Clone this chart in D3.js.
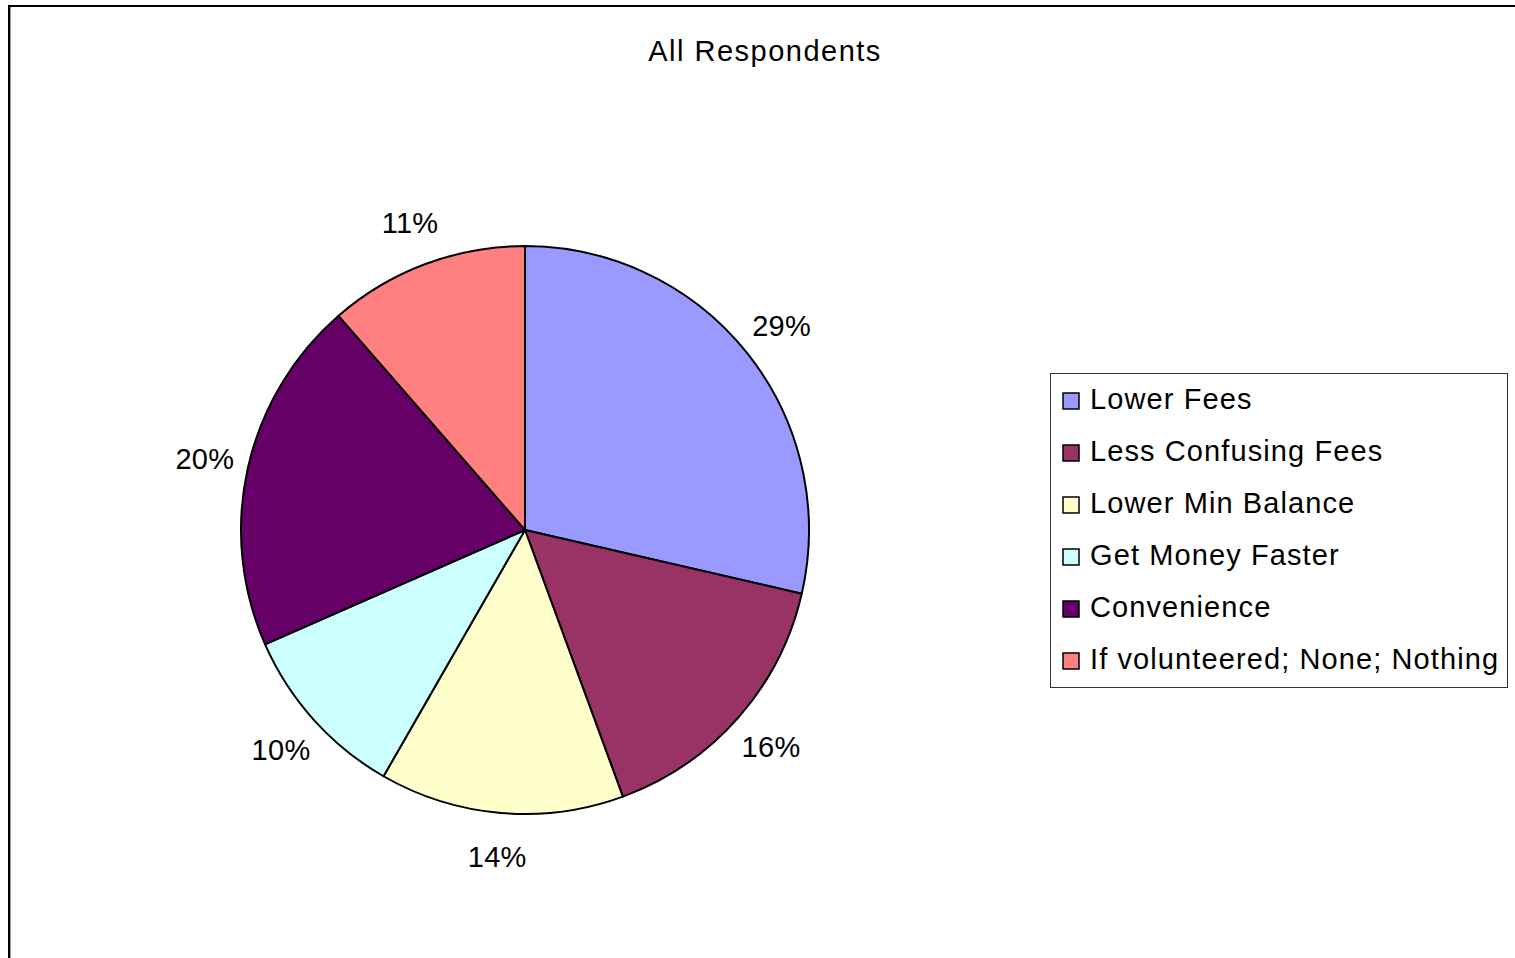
<!DOCTYPE html>
<html><head><meta charset="utf-8">
<script src="https://cdn.jsdelivr.net/npm/d3@7"></script>
<style>html,body{margin:0;padding:0;background:#fff;}svg{display:block;font-family:"Liberation Sans",Arial,sans-serif;}</style>
</head><body>
<script>
const title = "All Respondents";
const categories = ["Lower Fees","Less Confusing Fees","Lower Min Balance","Get Money Faster","Convenience","If volunteered; None; Nothing"];
const values = [28.6, 15.8, 13.9, 10.1, 20.2, 11.4];
const colors = ["#9999FF","#993366","#FFFFCC","#CCFFFF","#660066","#FF8080"];

const W = 1515, H = 958;
const svg = d3.select("body").append("svg").attr("width", W).attr("height", H);

// chart border
svg.append("rect").attr("x", 9).attr("y", 6).attr("width", W).attr("height", H)
  .attr("fill", "none").attr("stroke", "#000").attr("stroke-width", 2);
svg.append("line").attr("x1", 10.5).attr("x2", 10.5).attr("y1", 7).attr("y2", H).attr("stroke", "#999").attr("stroke-width", 1);

svg.append("text").attr("x", 765).attr("y", 61).attr("text-anchor", "middle")
  .attr("font-size", 29).attr("letter-spacing", 1.5).text(title);

const cx = 525, cy = 530, r = 284;
const pie = d3.pie().sort(null).value(d => d)(values);
const arc = d3.arc().innerRadius(0).outerRadius(r);
const g = svg.append("g").attr("transform", `translate(${cx},${cy})`);
g.selectAll("path").data(pie).join("path")
  .attr("d", arc).attr("fill", (d, i) => colors[i])
  .attr("stroke", "#000").attr("stroke-width", 2).attr("stroke-linejoin", "round");

const labelArc = d3.arc().innerRadius(328).outerRadius(328);
const total = d3.sum(values);
g.selectAll("text.lbl").data(pie).join("text").attr("class", "lbl")
  .attr("transform", d => `translate(${labelArc.centroid(d)})`)
  .attr("text-anchor", "middle").attr("dy", "0.36em")
  .attr("font-size", 29).attr("letter-spacing", 0.3)
  .text(d => Math.round(d.data / total * 100) + "%");

// legend
const lx = 1050, ly = 373, lw = 457, lh = 314;
svg.append("rect").attr("x", lx + 0.5).attr("y", ly + 0.5).attr("width", lw).attr("height", lh)
  .attr("fill", "#fff").attr("stroke", "#333").attr("stroke-width", 1);
const rowY = d3.scalePoint().domain(categories).range([399, 659]);
const lg = svg.append("g");
categories.forEach((c, i) => {
  lg.append("rect").attr("x", 1063).attr("y", rowY(c) - 6).attr("width", 16).attr("height", 16)
    .attr("fill", colors[i]).attr("stroke", "#000").attr("stroke-width", 1.5);
  lg.append("text").attr("x", 1090).attr("y", rowY(c)).attr("dy", "0.36em")
    .attr("font-size", 29).attr("letter-spacing", 1.1).text(c);
});
</script>
</body></html>
